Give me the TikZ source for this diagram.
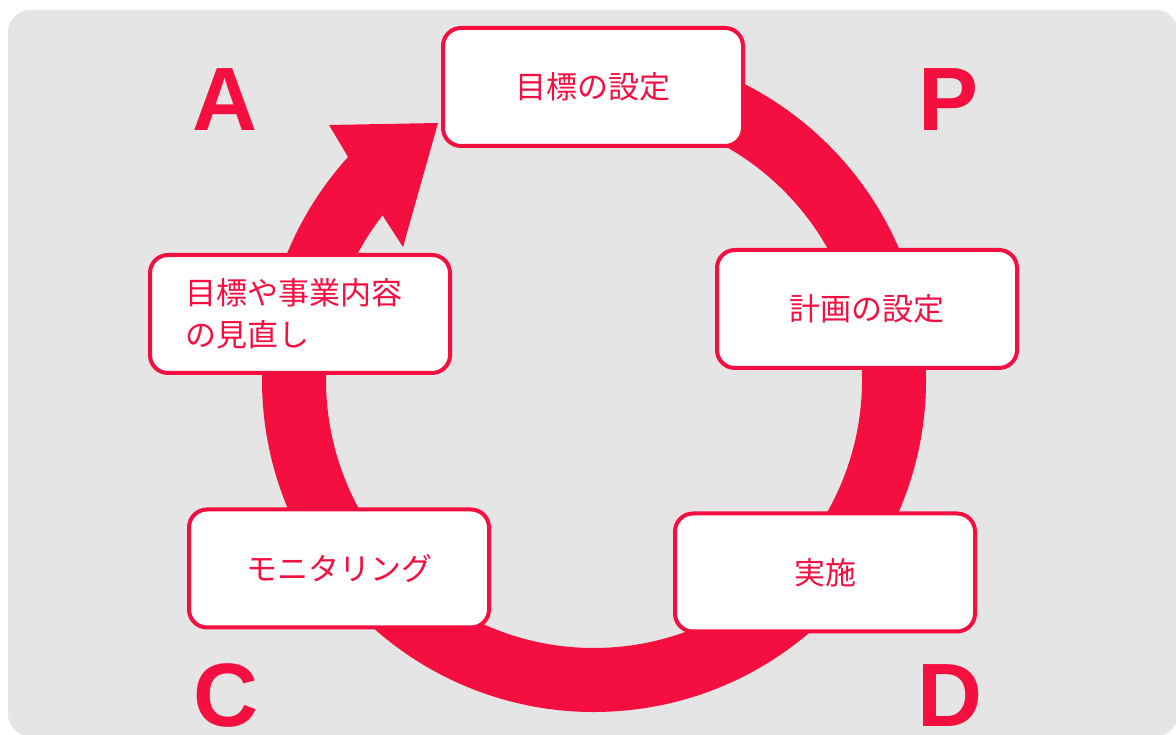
\documentclass[tikz,border=0pt]{standalone}
\usepackage{fontspec}
\newfontfamily\jpfont{Noto Sans CJK JP}
\newfontfamily\latfont{Liberation Sans}
\definecolor{pdred}{HTML}{F50F41}
\definecolor{bggray}{HTML}{E5E5E5}
\begin{document}
\begin{tikzpicture}[x=1pt,y=1pt,
  stagebox/.style={draw=pdred, line width=4pt, fill=white, rounded corners=18pt,
    minimum width=300pt, minimum height=118pt, text=pdred,
    font=\jpfont\fontsize{31}{42}\selectfont},
  cycleletter/.style={text=pdred, font=\latfont\bfseries\fontsize{90}{90}\selectfont,
    anchor=base, inner sep=0pt}]
\useasboundingbox (0,0) rectangle (1176,735);
\begin{scope}
\clip (0,0) rectangle (1176,735);
\fill[bggray, rounded corners=22pt] (8,-1) rectangle (1178,725);
\end{scope}
\coordinate (c) at (594,355);
\coordinate (so) at ([shift={(137.8:332)}]c);
\coordinate (si) at ([shift={(142.1:268)}]c);
\coordinate (wo) at (329,610);
\coordinate (tip) at (438,612);
\coordinate (wi) at (403,488);
\fill[pdred] ([shift={(95:332)}]c) arc[start angle=95, end angle=-222.2, radius=332]
  -- (wo) -- (tip) -- (wi) -- (si)
  arc[start angle=-217.9, end angle=95, radius=268] -- cycle;
\node[stagebox] (goal) at (593,648) {目標の設定};
\node[stagebox] (plan) at (867,426) {計画の設定};
\node[stagebox] (do) at (825,162.5) {実施};
\node[stagebox] (check) at (339,166.5) {モニタリング};
\node[stagebox, text width=230pt, align=left] (act) at (300,421) {目標や事業内容\\の見直し};
\node[cycleletter] (la) at (224.5,604) {A};
\node[cycleletter] (lp) at (948.5,604) {P};
\node[cycleletter] (lc) at (225.5,8) {C};
\node[cycleletter] (ld) at (950,8) {D};
\end{tikzpicture}
\end{document}
